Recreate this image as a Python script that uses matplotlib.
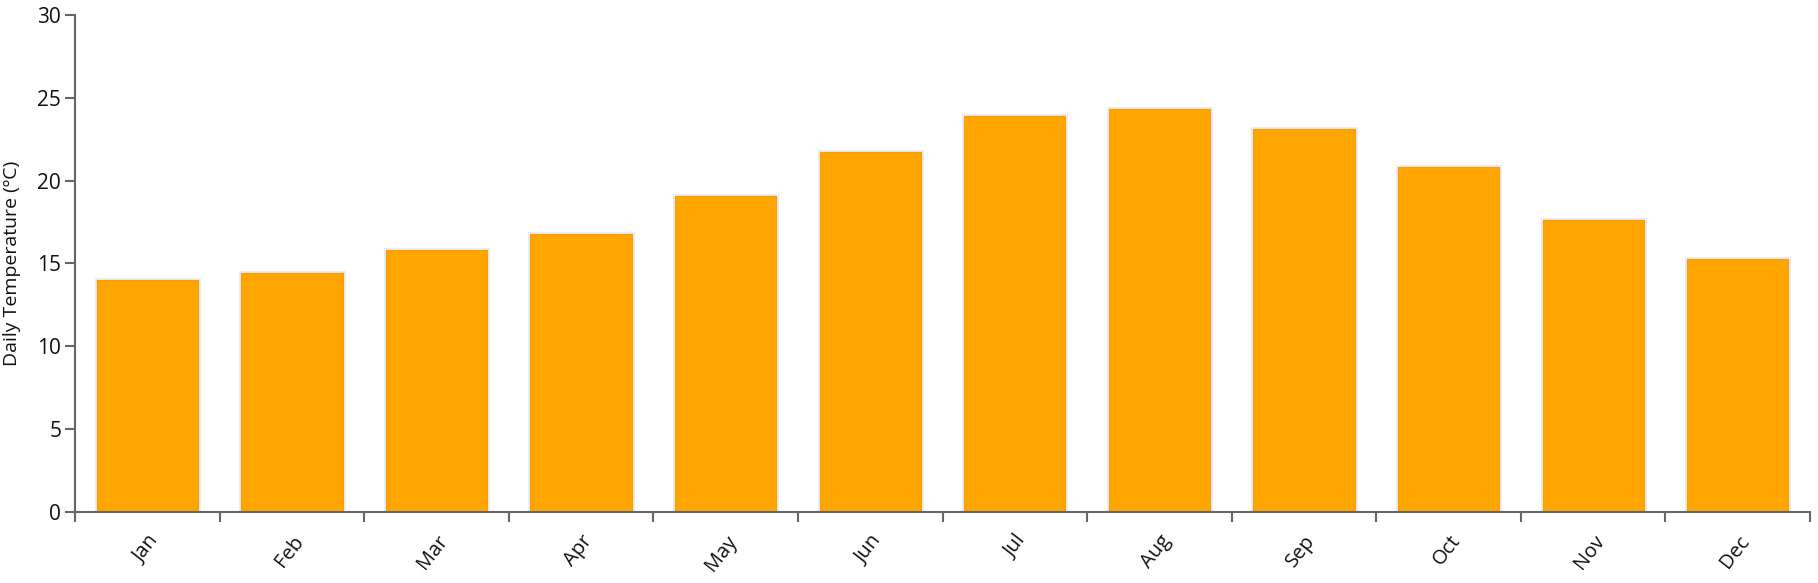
import matplotlib
matplotlib.use("Agg")
import matplotlib.pyplot as plt
import numpy as np

months = ["Jan", "Feb", "Mar", "Apr", "May", "Jun",
          "Jul", "Aug", "Sep", "Oct", "Nov", "Dec"]
temps = [14.0, 14.4, 15.8, 16.8, 19.1, 21.7, 23.9, 24.3, 23.1, 20.8, 17.6, 15.3]
yticks = [0, 5, 10, 15, 20, 25, 30]

plt.rcParams['font.family'] = ['Open Sans', 'DejaVu Sans']

fig = plt.figure(figsize=(18.18, 5.83), dpi=100)
ax = fig.add_axes([0.0413, 0.1218, 0.9543, 0.8525])

x = np.arange(len(months))
# light halo around each bar, then the bar itself
ax.bar(x, temps, width=0.7, color="#FFA500", edgecolor="#e6ecf3", linewidth=3.5, zorder=2)
ax.bar(x, temps, width=0.7, color="#FFA500", edgecolor="#FF9A00", linewidth=0.8, zorder=3)

ax.set_xlim(-0.5, len(months) - 0.5)
ax.set_ylim(0, 30)

ax.set_yticks(yticks)
ax.set_yticklabels([str(t) for t in yticks], fontsize=15, color="#111111")
ax.tick_params(axis="y", length=7, width=1.5, color="#666666", pad=3)

ax.set_xticks(x)
ax.set_xticklabels(months, fontsize=14.5, color="#111111", rotation=52,
                   ha="right", rotation_mode="anchor")
ax.tick_params(axis="x", which="major", length=0, pad=14)
ax.set_xticks(np.arange(-0.5, len(months)), minor=True)
ax.tick_params(axis="x", which="minor", length=7, width=1.5, color="#666666")

for s in ["top", "right"]:
    ax.spines[s].set_visible(False)
for s in ["left", "bottom"]:
    ax.spines[s].set_color("#666666")
    ax.spines[s].set_linewidth(1.5)
    ax.spines[s].set_zorder(4)

ax.set_ylabel("Daily Temperature (ºC)", fontsize=14, color="#111111", labelpad=12)

fig.savefig("out.png", dpi=100)
